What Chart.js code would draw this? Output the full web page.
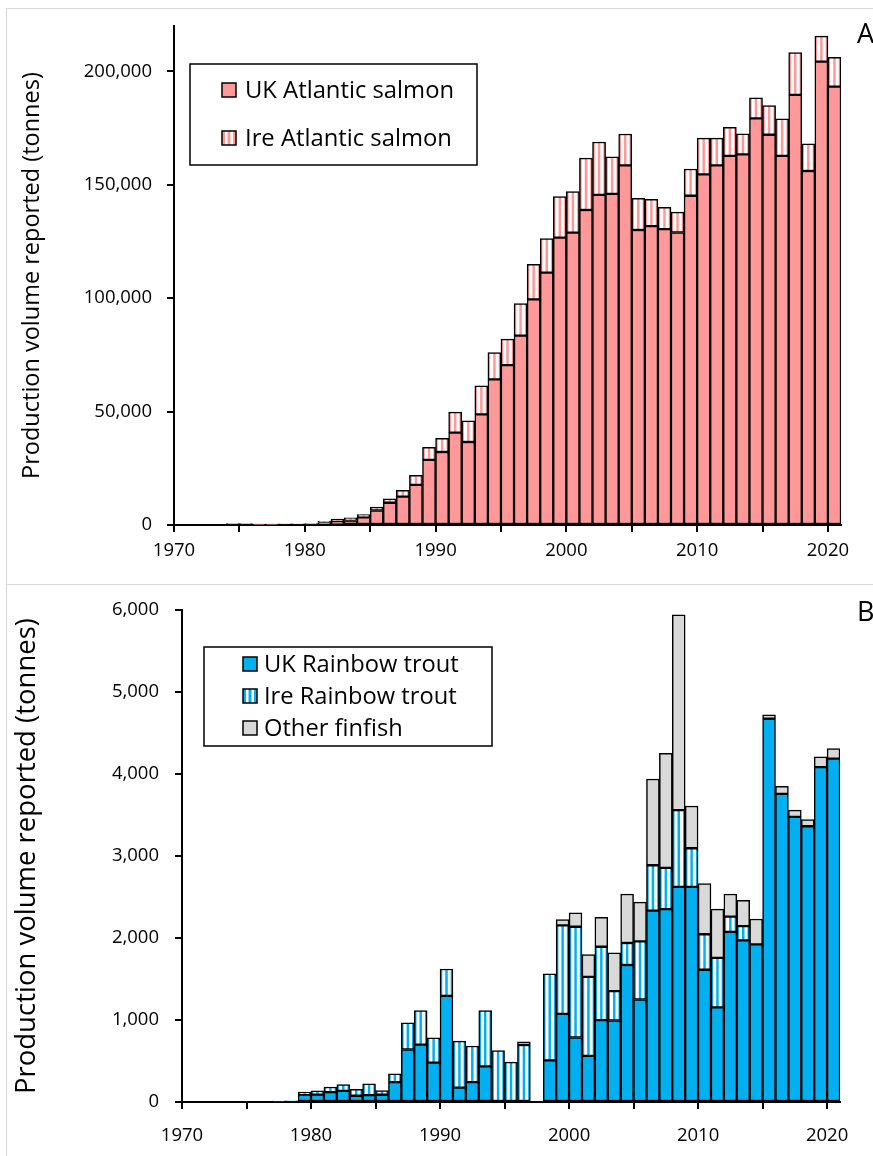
<!DOCTYPE html>
<html>
<head>
<meta charset="utf-8">
<script src="https://cdn.jsdelivr.net/npm/chart.js@4.4.1/dist/chart.umd.min.js"></script>
<style>
  html, body { margin: 0; padding: 0; background: #fff; }
  body { width: 873px; height: 1156px; position: relative; overflow: hidden; font-family: "Open Sans", sans-serif; }
  .panel { position: absolute; box-sizing: border-box; border-left: 1px solid #d9d9d9; border-top: 1px solid #d9d9d9; }
  #panelA { left: 6px; top: 8px; width: 900px; height: 576px; }
  #panelB { left: 6px; top: 584px; width: 900px; height: 600px; }
  canvas { position: absolute; left: 0; }
  #chartA { top: 0; }
  #chartB { top: 583px; }
  .tag { position: absolute; left: 857px; font-size: 27px; color: #000; line-height: 1; }
</style>
</head>
<body>
<div class="panel" id="panelA"></div>
<div class="panel" id="panelB"></div>
<canvas id="chartA" width="873" height="583"></canvas>
<canvas id="chartB" width="873" height="573"></canvas>
<div class="tag" style="top:19px">A</div>
<div class="tag" style="top:597px">B</div>
<script>
// Production years (one bar per year)
const years = [
  1970, 1971, 1972, 1973, 1974, 1975, 1976, 1977, 1978, 1979,
  1980, 1981, 1982, 1983, 1984, 1985, 1986, 1987, 1988, 1989,
  1990, 1991, 1992, 1993, 1994, 1995, 1996, 1997, 1998, 1999,
  2000, 2001, 2002, 2003, 2004, 2005, 2006, 2007, 2008, 2009,
  2010, 2011, 2012, 2013, 2014, 2015, 2016, 2017, 2018, 2019,
  2020
];
// Tick marks on the year axis, and the ones that carry a label
const yearMarks = [1970, 1975, 1980, 1985, 1990, 1995, 2000, 2005, 2010, 2015, 2020];
const yearTicks = [1970, 1980, 1990, 2000, 2010, 2020];
// Value axis ticks for each panel (tonnes)
const salmonTicks = [0, 50000, 100000, 150000, 200000];
const troutTicks = [0, 1000, 2000, 3000, 4000, 5000, 6000];

// Panel A: Atlantic salmon (tonnes)
const ukSalmon = [
  0, 0, 0, 0, 600, 600, 200, 200, 500, 500,
  600, 1100, 1400, 2000, 3400, 6400, 9800, 12500, 17700, 28700,
  32200, 40700, 36600, 48800, 64200, 70500, 83500, 99500, 111300, 126700,
  128900, 138900, 145600, 146000, 158600, 130100, 131800, 130500, 129000, 145200,
  154600, 158600, 162800, 163400, 179300, 172100, 162800, 189700, 156100, 204300,
  193300
];
const ireSalmon = [
  0, 0, 0, 0, 0, 0, 0, 0, 0, 0,
  0, 500, 1200, 1200, 1200, 1500, 1700, 2800, 4200, 5500,
  6000, 9100, 9300, 12600, 11800, 11500, 14100, 15400, 15000, 18100,
  18100, 22900, 23300, 16300, 13800, 13900, 11800, 9600, 9000, 11800,
  16000, 12000, 12600, 9100, 9100, 12800, 16300, 18600, 12000, 11300,
  12900
];

// Panel B: rainbow trout and other finfish (tonnes)
const ukTrout = [
  0, 0, 0, 0, 0, 0, 0, 10, 15, 90,
  90, 120, 135, 76, 84, 88, 243, 640, 699, 480,
  1295, 175, 243, 435, 0, 0, 0, 0, 507, 1075,
  787, 563, 999, 994, 1671, 1250, 2335, 2352, 2624, 2624,
  1613, 1155, 2075, 1972, 1923, 4675, 3759, 3478, 3363, 4085,
  4188
];
const ireTrout = [
  0, 0, 0, 0, 0, 0, 0, 0, 0, 30,
  45, 63, 76, 80, 139, 51, 100, 325, 416, 303,
  327, 568, 440, 680, 627, 487, 695, 0, 1055, 1079,
  1351, 963, 895, 359, 268, 710, 553, 503, 937, 471,
  433, 603, 186, 174, 0, 0, 0, 0, 0, 0,
  0
];
const otherFinfish = [
  0, 0, 0, 0, 0, 0, 0, 0, 0, 0,
  0, 0, 0, 0, 0, 0, 0, 0, 0, 0,
  0, 0, 0, 0, 0, 0, 40, 0, 0, 72,
  168, 272, 360, 468, 598, 478, 1052, 1399, 2380, 515,
  619, 594, 276, 313, 309, 49, 91, 83, 82, 124,
  124
];

const FONT = '"Open Sans", sans-serif';
const SALMON = '#FF9999';
const TROUT = '#00B0F0';
const GREY = '#D9D9D9';

// Vertical stripe fill, one stripe cycle per bar, aligned with the bar slots
function stripeFill(colour) {
  return function (c) {
    const chart = c.chart;
    const area = chart.chartArea;
    if (!area) return colour;
    const bw = area.width / years.length;
    const key = '_stripes' + colour;
    const cached = chart[key];
    if (!cached || cached.bw !== bw || cached.left !== area.left) {
      const tile = document.createElement('canvas');
      tile.width = 26; tile.height = 2;
      const t = tile.getContext('2d');
      t.fillStyle = '#fff';
      t.fillRect(0, 0, 26, 2);
      t.fillStyle = colour;
      t.fillRect(0, 0, 4.5, 2);
      t.fillRect(10.5, 0, 5, 2);
      t.fillRect(21.5, 0, 4.5, 2);
      const p = chart.ctx.createPattern(tile, 'repeat');
      p.setTransform(new DOMMatrix().translateSelf(area.left, 0).scaleSelf(bw / 26, 1));
      chart[key] = { bw: bw, left: area.left, p: p };
    }
    return chart[key].p;
  };
}

// Boxed legend drawn inside the plot
const boxLegend = {
  id: 'boxLegend',
  afterDraw(chart, args, o) {
    const ctx = chart.ctx;
    ctx.save();
    ctx.fillStyle = '#fff';
    ctx.fillRect(o.x, o.y, o.w, o.h);
    ctx.lineWidth = 1.5;
    ctx.strokeStyle = '#000';
    ctx.strokeRect(o.x, o.y, o.w, o.h);
    ctx.font = o.fontSize + 'px ' + FONT;
    ctx.textBaseline = 'middle';
    ctx.textAlign = 'left';
    chart.data.datasets.forEach((ds, i) => {
      const cy = o.y + o.first + i * o.gap;
      const s = o.box;
      const mx = o.markerX, my = Math.round(cy - s / 2);
      ctx.fillStyle = '#fff';
      ctx.fillRect(mx, my, s, s);
      ctx.fillStyle = ds.keyColour;
      if (ds.keyStriped) {
        ctx.fillRect(mx, my, 3, s);
        ctx.fillRect(mx + s / 2 - 1.5, my, 3, s);
        ctx.fillRect(mx + s - 3, my, 3, s);
      } else {
        ctx.fillRect(mx, my, s, s);
      }
      ctx.lineWidth = 1.5;
      ctx.strokeRect(mx, my, s, s);
      ctx.fillStyle = '#000';
      ctx.fillText(ds.label, o.textX, cy + 1);
    });
    ctx.restore();
  }
};

function barSet(label, data, fill, keyColour, keyStriped) {
  return {
    label: label,
    data: data,
    backgroundColor: fill,
    keyColour: keyColour,
    keyStriped: keyStriped,
    borderColor: '#000',
    borderWidth: 1.5,
    borderSkipped: false,
    barPercentage: 1,
    categoryPercentage: 1
  };
}

function buildScales(cfg) {
  return {
    x: { type: 'category', stacked: true, display: false, offset: true },
    yr: {
      type: 'linear', position: 'bottom', min: 1970, max: 2021, bounds: 'data', offset: false,
      afterFit: s => { s.height = cfg.xHeight; },
      afterBuildTicks: s => { s.ticks = yearMarks.map(v => ({ value: v })); },
      border: { display: true, color: '#000', width: 2 },
      grid: { offset: false, drawOnChartArea: false, drawTicks: true, tickLength: 7, color: '#000', lineWidth: 2 },
      ticks: {
        autoSkip: false, maxRotation: 0, minRotation: 0,
        padding: cfg.xPad, color: '#000', font: { family: FONT, size: 18.5 },
        callback: v => (yearTicks.includes(v) ? String(v) : '')
      }
    },
    y: {
      stacked: true, min: 0, max: cfg.yMax, bounds: 'data',
      afterFit: s => { s.width = cfg.yWidth; },
      afterBuildTicks: s => { s.ticks = cfg.yTicks.map(v => ({ value: v })); },
      border: { display: true, color: '#000', width: 2 },
      grid: { drawOnChartArea: false, drawTicks: true, tickLength: 7, color: '#000', lineWidth: 2 },
      ticks: {
        padding: cfg.yPad, color: '#000',
        font: { family: FONT, size: 18.5 },
        callback: v => v.toLocaleString('en-US')
      },
      title: {
        display: true, text: 'Production volume reported (tonnes)', color: '#000',
        font: { family: FONT, size: cfg.titleSize }, padding: { top: cfg.titlePad, bottom: 0 }
      }
    }
  };
}

Chart.defaults.font.family = FONT;

new Chart(document.getElementById('chartA'), {
  type: 'bar',
  data: {
    labels: years,
    datasets: [
      barSet('UK Atlantic salmon', ukSalmon, SALMON, SALMON, false),
      barSet('Ire Atlantic salmon', ireSalmon, stripeFill(SALMON), SALMON, true)
    ]
  },
  options: {
    responsive: false,
    animation: false,
    devicePixelRatio: 1,
    layout: { padding: { left: 0, right: 32, top: 25, bottom: 0 } },
    plugins: {
      legend: { display: false },
      tooltip: { enabled: false },
      boxLegend: { x: 190, y: 64, w: 287, h: 101, first: 26, gap: 48, box: 14, markerX: 222, textX: 245, fontSize: 23.8 }
    },
    scales: buildScales({
      xHeight: 58, xPad: 8, yWidth: 174, yMax: 220000, yTicks: salmonTicks,
      yPad: 15, titlePad: 18, titleSize: 23.5
    })
  },
  plugins: [boxLegend]
});

new Chart(document.getElementById('chartB'), {
  type: 'bar',
  data: {
    labels: years,
    datasets: [
      barSet('UK Rainbow trout', ukTrout, TROUT, TROUT, false),
      barSet('Ire Rainbow trout', ireTrout, stripeFill(TROUT), TROUT, true),
      barSet('Other finfish', otherFinfish, GREY, GREY, false)
    ]
  },
  options: {
    responsive: false,
    animation: false,
    devicePixelRatio: 1,
    layout: { padding: { left: 0, right: 33, top: 19, bottom: 0 } },
    plugins: {
      legend: { display: false },
      tooltip: { enabled: false },
      boxLegend: { x: 204, y: 64, w: 288, h: 99, first: 17, gap: 32, box: 14, markerX: 243, textX: 264, fontSize: 23.7 }
    },
    scales: buildScales({
      xHeight: 54, xPad: 16, yWidth: 182, yMax: 6000, yTicks: troutTicks,
      yPad: 16, titlePad: 11, titleSize: 27.5
    })
  },
  plugins: [boxLegend]
});
</script>
</body>
</html>
